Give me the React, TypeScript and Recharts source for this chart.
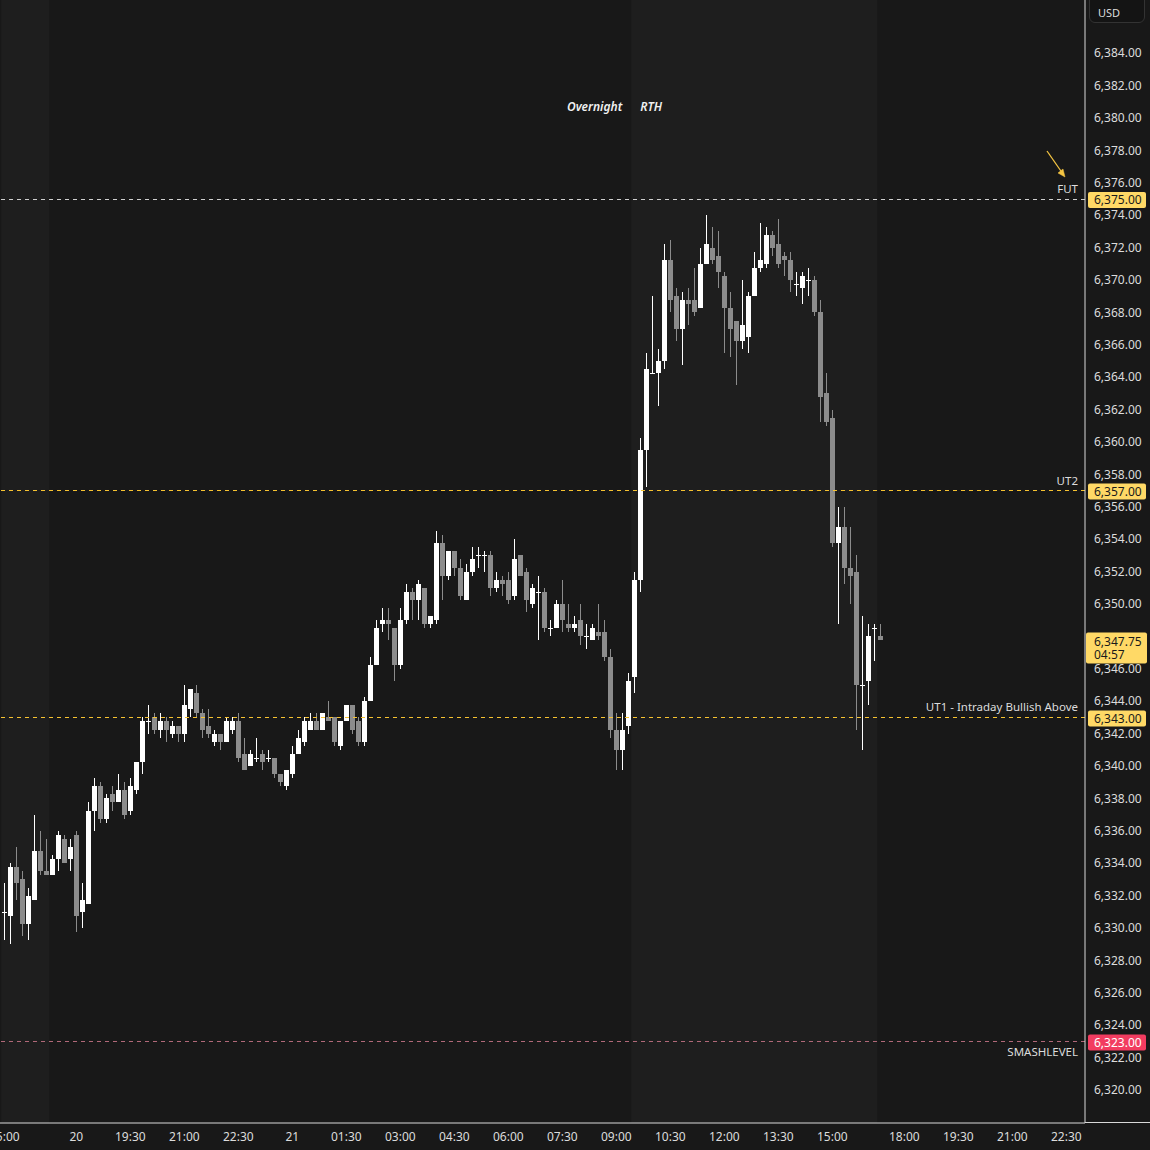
import { ComposedChart, Bar, XAxis, YAxis, ReferenceLine, ReferenceArea } from "recharts"

// 10 minute bars: [open, high, low, close]
// bar 0 = 15:00 on the 20th, bar 12 = 18:00 (session open), bar 146 = 16:20 on the 21st
const bars: [number, number, number, number][] = [
  [6331.0, 6332.75, 6329.25, 6331.0],
  [6330.75, 6334.0, 6329.0, 6333.75],
  [6333.75, 6335.0, 6331.75, 6332.75],
  [6333.0, 6333.5, 6329.5, 6330.25],
  [6330.25, 6332.5, 6329.25, 6332.0],
  [6331.75, 6337.0, 6331.75, 6334.75],
  [6334.75, 6336.0, 6333.25, 6333.5],
  [6333.5, 6335.5, 6333.25, 6333.25],
  [6333.25, 6334.5, 6333.25, 6334.25],
  [6334.25, 6336.0, 6333.5, 6335.75],
  [6335.5, 6335.75, 6334.0, 6334.0],
  [6334.25, 6335.5, 6333.5, 6335.0],
  [6335.75, 6336.0, 6329.75, 6330.75],
  [6331.0, 6332.75, 6330.0, 6331.75],
  [6331.5, 6337.75, 6331.5, 6337.25],
  [6337.25, 6339.25, 6336.0, 6338.75],
  [6338.75, 6339.0, 6336.5, 6336.75],
  [6336.75, 6338.25, 6336.5, 6338.0],
  [6338.25, 6338.75, 6337.25, 6337.75],
  [6337.75, 6339.5, 6337.75, 6338.5],
  [6338.5, 6339.0, 6336.75, 6337.0],
  [6337.25, 6339.25, 6337.0, 6338.75],
  [6338.5, 6340.25, 6338.25, 6340.25],
  [6340.25, 6343.0, 6339.5, 6342.75],
  [6342.75, 6343.75, 6342.0, 6342.75],
  [6343.0, 6343.25, 6342.0, 6342.25],
  [6342.25, 6343.25, 6341.75, 6342.75],
  [6342.75, 6343.0, 6341.5, 6342.25],
  [6342.0, 6342.75, 6341.75, 6342.5],
  [6342.5, 6342.5, 6341.5, 6342.0],
  [6342.0, 6345.0, 6341.5, 6343.75],
  [6343.5, 6344.75, 6343.0, 6344.75],
  [6344.5, 6345.0, 6343.0, 6343.25],
  [6343.25, 6343.5, 6341.75, 6342.25],
  [6342.5, 6343.5, 6341.75, 6342.0],
  [6341.5, 6342.25, 6341.25, 6342.0],
  [6342.0, 6342.0, 6341.0, 6341.5],
  [6341.5, 6343.0, 6341.5, 6342.75],
  [6342.25, 6343.0, 6342.0, 6342.75],
  [6342.75, 6343.25, 6340.25, 6340.5],
  [6340.75, 6341.75, 6339.75, 6339.75],
  [6340.0, 6341.0, 6340.0, 6340.75],
  [6340.5, 6341.75, 6340.25, 6340.5],
  [6340.75, 6341.0, 6339.75, 6340.25],
  [6340.5, 6341.0, 6340.25, 6340.5],
  [6340.5, 6340.5, 6339.25, 6339.5],
  [6339.5, 6339.5, 6338.75, 6339.0],
  [6338.75, 6339.75, 6338.5, 6339.75],
  [6339.5, 6341.25, 6339.25, 6340.75],
  [6340.75, 6342.25, 6340.75, 6341.75],
  [6341.5, 6343.0, 6341.25, 6342.75],
  [6342.25, 6343.25, 6342.25, 6342.75],
  [6342.75, 6343.25, 6342.25, 6342.25],
  [6342.25, 6343.25, 6342.25, 6343.25],
  [6343.0, 6344.0, 6342.75, 6342.75],
  [6343.0, 6343.0, 6341.25, 6341.5],
  [6341.25, 6342.75, 6341.0, 6342.75],
  [6342.75, 6343.75, 6342.75, 6343.75],
  [6343.75, 6343.75, 6342.0, 6342.25],
  [6342.75, 6343.0, 6341.25, 6341.5],
  [6341.5, 6344.25, 6341.25, 6344.0],
  [6344.0, 6346.75, 6344.0, 6346.25],
  [6346.25, 6349.0, 6346.25, 6348.5],
  [6348.75, 6349.75, 6348.25, 6349.0],
  [6349.0, 6349.75, 6347.75, 6348.75],
  [6348.5, 6348.5, 6345.25, 6346.25],
  [6346.25, 6349.75, 6346.0, 6349.0],
  [6349.0, 6351.25, 6348.75, 6350.75],
  [6350.75, 6351.0, 6349.0, 6350.25],
  [6350.25, 6351.5, 6349.0, 6351.25],
  [6351.0, 6351.0, 6348.5, 6348.75],
  [6348.75, 6349.25, 6348.5, 6349.25],
  [6349.0, 6354.5, 6348.75, 6353.75],
  [6353.75, 6354.25, 6350.25, 6351.75],
  [6351.75, 6353.25, 6351.5, 6353.25],
  [6353.25, 6353.25, 6351.75, 6352.25],
  [6352.25, 6352.75, 6350.25, 6350.5],
  [6350.25, 6352.5, 6350.25, 6352.0],
  [6352.0, 6353.5, 6351.75, 6352.75],
  [6353.0, 6353.5, 6352.25, 6353.0],
  [6353.0, 6353.25, 6352.0, 6353.0],
  [6353.0, 6353.25, 6350.5, 6351.0],
  [6351.0, 6352.0, 6350.75, 6351.5],
  [6351.5, 6351.75, 6350.5, 6351.25],
  [6351.5, 6352.0, 6350.0, 6350.25],
  [6350.5, 6354.0, 6350.25, 6352.75],
  [6353.0, 6353.0, 6351.75, 6351.75],
  [6352.0, 6352.25, 6349.5, 6350.25],
  [6350.0, 6351.25, 6349.75, 6351.0],
  [6350.75, 6351.75, 6347.75, 6350.75],
  [6350.75, 6351.0, 6348.25, 6348.5],
  [6348.5, 6349.0, 6348.0, 6348.5],
  [6348.5, 6350.25, 6348.5, 6350.0],
  [6350.0, 6351.5, 6348.25, 6349.0],
  [6348.75, 6350.0, 6348.25, 6348.5],
  [6348.5, 6349.25, 6348.25, 6348.75],
  [6349.0, 6350.0, 6347.5, 6348.0],
  [6348.0, 6348.75, 6347.25, 6348.0],
  [6347.75, 6348.75, 6347.75, 6348.5],
  [6348.25, 6350.0, 6347.75, 6348.0],
  [6348.25, 6349.0, 6346.5, 6346.75],
  [6346.75, 6347.25, 6341.75, 6342.25],
  [6342.25, 6343.25, 6339.75, 6341.0],
  [6341.0, 6343.25, 6339.75, 6342.25],
  [6342.5, 6345.75, 6342.0, 6345.25],
  [6345.5, 6352.0, 6344.5, 6351.5],
  [6351.5, 6360.25, 6350.75, 6359.5],
  [6359.5, 6365.5, 6357.25, 6364.5],
  [6364.25, 6369.0, 6364.25, 6364.25],
  [6364.25, 6365.75, 6362.25, 6365.0],
  [6365.0, 6372.25, 6364.5, 6371.25],
  [6371.25, 6372.5, 6368.0, 6368.75],
  [6369.0, 6369.5, 6366.25, 6367.0],
  [6367.0, 6369.25, 6364.75, 6368.75],
  [6368.75, 6369.5, 6367.25, 6368.5],
  [6368.75, 6370.75, 6367.75, 6368.0],
  [6368.25, 6372.0, 6368.25, 6371.0],
  [6371.0, 6374.0, 6371.0, 6372.25],
  [6372.0, 6373.25, 6371.0, 6371.25],
  [6371.5, 6373.0, 6369.5, 6370.5],
  [6370.25, 6370.5, 6365.5, 6368.25],
  [6368.25, 6369.25, 6365.25, 6367.0],
  [6367.5, 6367.5, 6363.5, 6366.25],
  [6366.25, 6370.0, 6365.75, 6367.25],
  [6366.5, 6369.25, 6365.5, 6369.0],
  [6369.0, 6371.75, 6369.0, 6370.75],
  [6370.75, 6373.5, 6370.5, 6371.25],
  [6371.0, 6373.25, 6370.75, 6372.75],
  [6372.75, 6373.0, 6371.5, 6372.0],
  [6372.25, 6373.75, 6370.75, 6371.0],
  [6371.5, 6371.75, 6370.25, 6371.25],
  [6371.25, 6371.75, 6369.25, 6370.0],
  [6369.75, 6370.5, 6369.0, 6369.75],
  [6369.5, 6370.5, 6368.5, 6370.25],
  [6370.0, 6370.75, 6369.0, 6370.0],
  [6370.0, 6370.25, 6367.75, 6368.0],
  [6368.0, 6368.75, 6361.25, 6362.75],
  [6363.0, 6364.25, 6361.0, 6361.25],
  [6361.5, 6362.0, 6353.5, 6353.75],
  [6353.75, 6356.0, 6348.75, 6354.75],
  [6354.75, 6356.0, 6351.25, 6352.25],
  [6352.25, 6354.75, 6350.0, 6351.75],
  [6352.0, 6353.0, 6342.25, 6345.0],
  [6345.0, 6349.25, 6341.0, 6345.0],
  [6345.25, 6348.75, 6343.75, 6348.0],
  [6348.5, 6348.75, 6346.5, 6348.5],
  [6348.0, 6348.75, 6347.75, 6347.75],
]

// bar slots shown on the time axis (empty ones after the last bar)
const SLOTS = 180

const timeTicks = [
  { i: 0, label: "15:00" },
  { i: 12, label: "20" },
  { i: 21, label: "19:30" },
  { i: 30, label: "21:00" },
  { i: 39, label: "22:30" },
  { i: 48, label: "21" },
  { i: 57, label: "01:30" },
  { i: 66, label: "03:00" },
  { i: 75, label: "04:30" },
  { i: 84, label: "06:00" },
  { i: 93, label: "07:30" },
  { i: 102, label: "09:00" },
  { i: 111, label: "10:30" },
  { i: 120, label: "12:00" },
  { i: 129, label: "13:30" },
  { i: 138, label: "15:00" },
  { i: 150, label: "18:00" },
  { i: 159, label: "19:30" },
  { i: 168, label: "21:00" },
  { i: 177, label: "22:30" },
]

const priceTicks = [
  6320, 6322, 6324, 6326, 6328, 6330, 6332, 6334, 6336, 6338, 6340, 6342, 6344, 6346, 6348, 6350, 6352,
  6354, 6356, 6358, 6360, 6362, 6364, 6366, 6368, 6370, 6372, 6374, 6376, 6378, 6380, 6382, 6384,
]

const levels = [
  { price: 6375, name: "FUT", line: "#cfcfcf", tag: "#ffd966", tagText: "#1a1a1a", below: false },
  { price: 6357, name: "UT2", line: "#f7c331", tag: "#ffd966", tagText: "#1a1a1a", below: false },
  { price: 6343, name: "UT1 - Intraday Bullish Above", line: "#f7c331", tag: "#ffd966", tagText: "#1a1a1a", below: false },
  { price: 6323, name: "SMASHLEVEL", line: "#b06878", tag: "#f23c60", tagText: "#ffffff", below: true },
]

const lastPrice = 6347.75
const countdown = "04:57"

// regular trading hours, in bar slots
const rthSessions = [
  { from: 0, to: 7 },
  { from: 105, to: 145 },
]

const BG = "#181818"
const RTH_BG = "#1e1e1e"
const UP = "#ffffff"
const DOWN = "#8c8c8c"
const TEXT = "#dcdcdc"
const FONT = "'Noto Sans', sans-serif"

const rows = Array.from({ length: SLOTS }, (_, i) => {
  const b = bars[i]
  return { i, ohlc: b, range: b ? [b[2], b[1]] : null }
})

// the last price tag sits over the nearest axis label
const axisTicks = priceTicks.filter((t) => Math.abs(t - lastPrice) > 1)

const fmt = (v: number) => v.toLocaleString("en-US", { minimumFractionDigits: 2, maximumFractionDigits: 2 })

function Candle(props: any) {
  const { x, y, width, height, payload } = props
  if (!payload || !payload.ohlc) return <g />
  const [o, h, l, c] = payload.ohlc
  const top = Math.min(y, y + height)
  const span = Math.abs(height)
  const toY = (v: number) => (h === l ? top : top + ((h - v) / (h - l)) * span)
  const cx = Math.round(x + width / 2)
  const color = c >= o ? UP : DOWN
  const bTop = Math.round(toY(Math.max(o, c)))
  const bBot = Math.round(toY(Math.min(o, c)))
  const wTop = Math.round(top)
  const wBot = Math.round(top + span)
  return (
    <g shapeRendering="crispEdges">
      <rect x={cx} y={wTop} width={1} height={Math.max(1, wBot - wTop)} fill={color} />
      <rect x={cx - 2} y={bTop} width={5} height={Math.max(1, bBot - bTop)} fill={color} />
    </g>
  )
}

function TimeTick({ x, y, payload }: any) {
  const t = timeTicks.find((t) => t.i === payload.value)
  return (
    <text x={x} y={y + 10} textAnchor="middle" fill={TEXT} fontSize={12} fontFamily={FONT}>
      {t ? t.label : ""}
    </text>
  )
}

function PriceTick({ x, y, payload }: any) {
  return (
    <text x={x + 1} y={y} dy="0.35em" textAnchor="start" fill={TEXT} fontSize={12} fontFamily={FONT}>
      {fmt(payload.value)}
    </text>
  )
}

function levelTag(level: (typeof levels)[number]) {
  return (props: any) => {
    const vb = props.viewBox || {}
    const right = vb.x + vb.width
    const ly = vb.y
    return (
      <g fontFamily={FONT}>
        <text
          x={right - 7}
          y={level.below ? ly + 15 : ly - 6}
          textAnchor="end"
          fill={TEXT}
          fontSize={11.5}
        >
          {level.name}
        </text>
        {level.name === "FUT" && (
          <g stroke="#f5c542" fill="#f5c542" strokeWidth={1.3}>
            <line x1={right - 38} y1={ly - 48} x2={right - 22} y2={ly - 25} />
            <polygon
              points={`${right - 20},${ly - 22} ${right - 27},${ly - 26} ${right - 22},${ly - 30}`}
              strokeWidth={0.5}
            />
          </g>
        )}
        <rect x={right + 3} y={ly - 7} width={58} height={16} rx={2} fill={level.tag} />
        <text x={right + 9} y={ly + 1} dy="0.35em" fill={level.tagText} fontSize={12}>
          {fmt(level.price)}
        </text>
      </g>
    )
  }
}

function lastPriceTag(props: any) {
  const vb = props.viewBox || {}
  const right = vb.x + vb.width
  const ly = vb.y
  return (
    <g fontFamily={FONT}>
      <rect x={right + 1} y={ly - 8} width={61} height={31} rx={2} fill="#ffd966" />
      <text x={right + 9} y={ly + 1} dy="0.35em" fill="#1a1a1a" fontSize={12}>
        {fmt(lastPrice)}
      </text>
      <text x={right + 9} y={ly + 14} dy="0.35em" fill="#1a1a1a" fontSize={12}>
        {countdown}
      </text>
    </g>
  )
}

function sessionNames(props: any) {
  const vb = props.viewBox || {}
  return (
    <g fontFamily={FONT} fontStyle="italic" fontWeight={600} fontSize={12} fill="#f0f0f0">
      <text x={vb.x - 9} y={111} textAnchor="end">
        Overnight
      </text>
      <text x={vb.x + 9} y={111} textAnchor="start">
        RTH
      </text>
    </g>
  )
}

export default function App() {
  return (
    <div style={{ position: "relative", width: 1150, height: 1150, background: BG, overflow: "hidden" }}>
      <style>{`body{margin:0;background:${BG}}`}</style>
      <ComposedChart
        width={1150}
        height={1150}
        data={rows}
        margin={{ top: 0, right: 0, bottom: 0, left: 0 }}
        barCategoryGap={0}
      >
        {rthSessions.map((s, k) => (
          <ReferenceArea
            key={k}
            x1={s.from}
            x2={s.to}
            fill={RTH_BG}
            fillOpacity={1}
            stroke="none"
            ifOverflow="visible"
            label={k === 1 ? sessionNames : undefined}
          />
        ))}
        <XAxis
          dataKey="i"
          type="category"
          height={27}
          interval={0}
          ticks={timeTicks.map((t) => t.i)}
          tick={<TimeTick />}
          tickLine={false}
          axisLine={{ stroke: "#d9d9d9" }}
          padding={{ left: 1.3, right: 3.7 }}
        />
        <YAxis
          orientation="right"
          width={65}
          type="number"
          domain={[6317.963, 6387.284]}
          allowDataOverflow
          ticks={axisTicks}
          interval={0}
          tick={<PriceTick />}
          tickLine={false}
          axisLine={{ stroke: "#d9d9d9" }}
        />
        <Bar dataKey="range" shape={<Candle />} isAnimationActive={false} />
        {levels.map((lv) => (
          <ReferenceLine
            key={lv.name}
            y={lv.price}
            stroke={lv.line}
            strokeWidth={1}
            strokeDasharray="4 4"
            shapeRendering="crispEdges"
            label={levelTag(lv)}
          />
        ))}
        <ReferenceLine y={lastPrice} stroke="none" strokeOpacity={0} label={lastPriceTag} />
      </ComposedChart>
      <div
        style={{
          position: "absolute",
          left: 1085,
          top: 1122,
          width: 65,
          height: 1,
          background: "#d9d9d9",
        }}
      />
      <div
        style={{
          position: "absolute",
          left: 1089,
          top: -6,
          width: 56,
          height: 29,
          boxSizing: "border-box",
          border: "1px solid #333333",
          borderRadius: 6,
          background: "#141414",
          color: TEXT,
          fontFamily: FONT,
          fontSize: 11,
          lineHeight: "12px",
          paddingTop: 12,
          paddingLeft: 8,
        }}
      >
        USD
      </div>
    </div>
  )
}
